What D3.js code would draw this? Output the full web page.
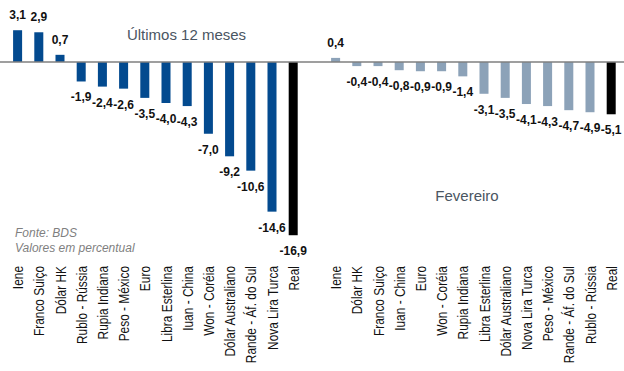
<!DOCTYPE html>
<html>
<head>
<meta charset="utf-8">
<script src="https://cdn.jsdelivr.net/npm/d3@7"></script>
<style>
  html, body { margin: 0; padding: 0; background: #fff; }
  svg { display: block; }
</style>
</head>
<body>
<svg id="chart" width="624" height="371"></svg>
<script>
// Variação das moedas frente ao dólar (%)
const catsYear = ["Iene", "Franco Suiço", "Dólar HK", "Rublo - Rússia", "Rupia Indiana", "Peso - México", "Euro",
  "Libra Esterlina", "Iuan - China", "Won - Coréia", "Dólar Australiano", "Rande - Áf. do Sul", "Nova Lira Turca", "Real"];
const valsYear = [3.1, 2.9, 0.7, -1.9, -2.4, -2.6, -3.5, -4.0, -4.3, -7.0, -9.2, -10.6, -14.6, -16.9];

const catsFeb = ["Iene", "Dólar HK", "Franco Suiço", "Iuan - China", "Euro", "Won - Coréia", "Rupia Indiana",
  "Libra Esterlina", "Dólar Australiano", "Nova Lira Turca", "Peso - México", "Rande - Áf. do Sul", "Rublo - Rússia", "Real"];
const valsFeb = [0.4, -0.4, -0.4, -0.8, -0.9, -0.9, -1.4, -3.1, -3.5, -4.1, -4.3, -4.7, -4.9, -5.1];

const panelTitles = ["Últimos 12 meses", "Fevereiro"];
const notes = ["Fonte: BDS", "Valores em percentual"];

const svg = d3.select("#chart");
const fmt = v => d3.format(".1f")(v).replace(".", ",").replace("−", "-");

const y = d3.scaleLinear().domain([0, -17]).range([62, 62 + 17 * 10.25]);

function panel(cats, vals, x0, x1, barColor) {
  const x = d3.scaleBand().domain(cats).range([x0, x1])
    .paddingInner(0.575).paddingOuter(0.2875);
  const data = cats.map((c, i) => ({ c, v: vals[i], last: i === cats.length - 1 }));
  const g = svg.append("g");

  g.selectAll("rect").data(data).join("rect")
    .attr("x", d => x(d.c))
    .attr("width", x.bandwidth())
    .attr("y", d => Math.min(y(d.v), y(0)))
    .attr("height", d => Math.abs(y(d.v) - y(0)))
    .attr("fill", d => d.last ? "#000000" : barColor);

  g.selectAll("text.val").data(data).join("text")
    .attr("class", "val")
    .attr("x", d => x(d.c) + x.bandwidth() / 2)
    .attr("y", d => d.v >= 0 ? y(d.v) - 11 : y(d.v) + 20)
    .attr("text-anchor", "middle")
    .attr("font-family", "'Liberation Sans', Arial, sans-serif")
    .attr("font-weight", "bold")
    .attr("font-size", 12)
    .attr("fill", "#111")
    .text(d => fmt(d.v));

  // category labels, rotated
  const axis = d3.axisBottom(x).tickSize(0).tickPadding(0);
  const ax = g.append("g").attr("transform", "translate(0,266)").call(axis);
  ax.select(".domain").remove();
  ax.selectAll(".tick text")
    .attr("transform", "translate(5.5,0) rotate(-90) scale(0.85,1)")
    .attr("x", 0).attr("y", 0).attr("dy", 0)
    .attr("text-anchor", "end")
    .attr("font-family", "'Liberation Sans', Arial, sans-serif")
    .attr("font-size", 14)
    .attr("fill", "#111");
}

panel(catsYear, valsYear, 7, 7 + 14 * 21.2, "#034a8f");
panel(catsFeb, valsFeb, 325, 325 + 14 * 21.2, "#8ca2b8");

// zero line across both panels
svg.append("line")
  .attr("x1", 0).attr("x2", 624)
  .attr("y1", y(0)).attr("y2", y(0))
  .attr("stroke", "#7f7f7f").attr("stroke-width", 1.3);

svg.append("text").attr("x", 186.5).attr("y", 39.5)
  .attr("text-anchor", "middle")
  .attr("font-family", "'Liberation Sans', Arial, sans-serif")
  .attr("font-size", 15).attr("fill", "#4a5562")
  .text(panelTitles[0]);

svg.append("text").attr("x", 467).attr("y", 201)
  .attr("text-anchor", "middle")
  .attr("font-family", "'Liberation Sans', Arial, sans-serif")
  .attr("font-size", 15).attr("fill", "#4a5562")
  .text(panelTitles[1]);

svg.selectAll("text.note").data(notes).join("text")
  .attr("class", "note")
  .attr("x", 15)
  .attr("y", (d, i) => 237 + i * 15)
  .attr("font-family", "'Liberation Sans', Arial, sans-serif")
  .attr("font-style", "italic")
  .attr("font-size", 12)
  .attr("fill", "#7f7f7f")
  .text(d => d);
</script>
</body>
</html>
